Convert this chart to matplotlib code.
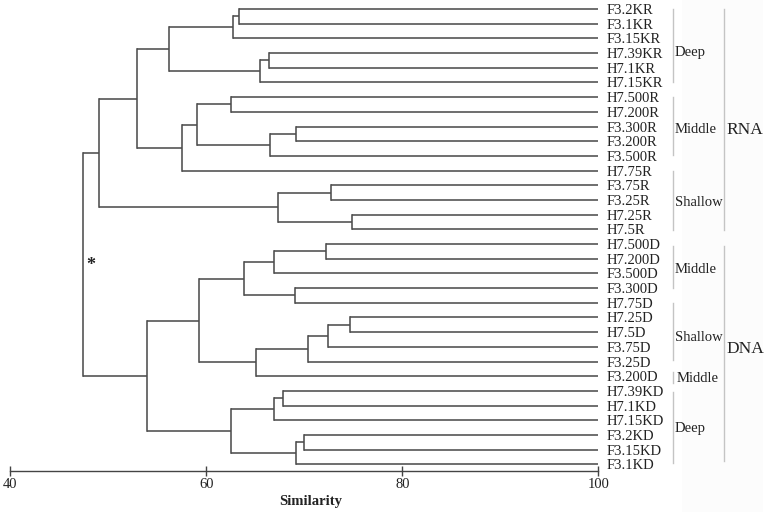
import matplotlib
matplotlib.use("Agg")
import matplotlib.pyplot as plt
from matplotlib.patches import Rectangle

# ---------------- data ----------------
leaves = ["F3.2KR", "F3.1KR", "F3.15KR", "H7.39KR", "H7.1KR", "H7.15KR",
          "H7.500R", "H7.200R", "F3.300R", "F3.200R", "F3.500R", "H7.75R",
          "F3.75R", "F3.25R", "H7.25R", "H7.5R",
          "H7.500D", "H7.200D", "F3.500D", "F3.300D", "H7.75D",
          "H7.25D", "H7.5D", "F3.75D", "F3.25D", "F3.200D",
          "H7.39KD", "H7.1KD", "H7.15KD", "F3.2KD", "F3.15KD", "F3.1KD"]

# merges: node ids 0..31 are leaves, merge k creates node 32+k
merge_a = [0, 32, 3, 34, 33, 6, 8, 38, 37, 40, 36, 12, 14, 43, 42,
           16, 47, 19, 48, 21, 51, 52, 53, 50, 26, 56, 29, 58, 57, 55, 46]
merge_b = [1, 2, 4, 5, 35, 7, 9, 10, 39, 11, 41, 13, 15, 44, 45,
           17, 18, 20, 49, 22, 23, 24, 25, 54, 27, 28, 30, 31, 59, 60, 61]
merge_sim = [63.3, 62.7, 66.4, 65.5, 56.2, 62.5, 69.2, 66.5, 59.0, 57.5, 52.9,
             72.7, 74.9, 67.3, 49.1,
             72.2, 66.9, 69.1, 63.8, 74.7, 72.4, 70.4, 65.1, 59.3,
             67.8, 66.9, 70.0, 69.2, 62.5, 53.9, 47.4]

group_labels = ["Deep", "Middle", "Shallow", "Middle", "Shallow", "Middle", "Deep"]
type_labels = ["RNA", "DNA"]

x_ticks = [40, 60, 80, 100]
x_label = "Similarity"

# ---------------- figure ----------------
W, H = 767, 512
fig = plt.figure(figsize=(W / 100, H / 100), dpi=100)
fig.patch.set_facecolor("white")
fig.patches.append(Rectangle((682 / W, 0), 81 / W, 1, transform=fig.transFigure,
                             facecolor="#fcfcfc", edgecolor="none", zorder=-5))

ax = fig.add_axes([10.3 / W, 1 - 470.7 / H, 588 / W, 470.7 / H])
ax.set_zorder(2)
ax.set_facecolor("none")
ax.set_xlim(40, 100)
ax.set_ylim(31.43, -0.613)

serif = ["Liberation Serif", "DejaVu Serif"]
lc = "#4d4d4d"
lw = 1.15

node_x = {i: 100.0 for i in range(len(leaves))}
node_y = {i: float(i) for i in range(len(leaves))}
for k, (a, b, s) in enumerate(zip(merge_a, merge_b, merge_sim)):
    nid = len(leaves) + k
    ax.plot([node_x[a], s], [node_y[a], node_y[a]], color=lc, lw=lw, solid_capstyle="butt")
    ax.plot([node_x[b], s], [node_y[b], node_y[b]], color=lc, lw=lw, solid_capstyle="butt")
    ax.plot([s, s], [node_y[a], node_y[b]], color=lc, lw=lw, solid_capstyle="projecting")
    node_x[nid] = s
    node_y[nid] = (node_y[a] + node_y[b]) / 2

for i, name in enumerate(leaves):
    ax.text(100.86, i, name, ha="left", va="center_baseline", fontsize=10.5,
            family=serif, color="#222222", clip_on=False)

# group brackets (layout)
group_spans = [(0.02, 4.95), (6.01, 9.94), (11.0, 15.04), (16.13, 19.01),
               (20.03, 23.89), (24.69, 25.44), (26.05, 30.93)]
group_text_y = [2.84, 8.1, 13.07, 17.65, 22.26, 25.07, 28.43]
group_text_x = [107.8, 107.8, 107.8, 107.8, 107.8, 108.0, 107.8]
for lab, (y0, y1), ty, tx in zip(group_labels, group_spans, group_text_y, group_text_x):
    ax.plot([107.59, 107.59], [y0, y1], color="#c4c4c4", lw=1.0, clip_on=False)
    ax.text(tx, ty, lab, ha="left", va="center_baseline", fontsize=10.5,
            family=serif, color="#222222", clip_on=False)

type_spans = [(0.02, 15.04), (16.13, 30.75)]
type_text_y = [8.1, 22.99]
for lab, (y0, y1), ty in zip(type_labels, type_spans, type_text_y):
    ax.plot([112.86, 112.86], [y0, y1], color="#c4c4c4", lw=1.0, clip_on=False)
    ax.text(113.1, ty, lab, ha="left", va="center_baseline", fontsize=12.5,
            family=serif, color="#222222", clip_on=False)

# asterisk
ax.text(48.23, 17.75, "*", ha="center", va="baseline", fontsize=13,
        fontweight="bold", family=serif, color="#222222")

# axis
for sp in ["top", "right", "left"]:
    ax.spines[sp].set_visible(False)
ax.spines["bottom"].set_color("#444444")
ax.spines["bottom"].set_linewidth(1.0)
ax.spines["bottom"].set_bounds(40, 100)
ax.set_yticks([])
ax.set_xticks(x_ticks)
ax.set_xticklabels([str(t) for t in x_ticks], family=serif, fontsize=10.5, color="#222222")
ax.tick_params(axis="x", direction="inout", length=7, width=1.0, color="#444444", pad=2.0)

ax.text(70.7, 33.5, x_label, ha="center", va="center", fontsize=10.5,
        fontweight="bold", family=serif, color="#222222", clip_on=False)

fig.savefig("out.png", dpi=100)
